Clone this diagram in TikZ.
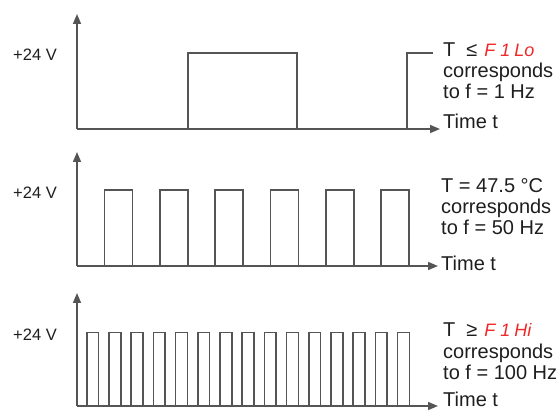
\documentclass[tikz,border=0pt]{standalone}
\usepackage{fontspec}
\setmainfont{Liberation Sans}
\usetikzlibrary{arrows.meta}
\definecolor{ln}{HTML}{555555}
\definecolor{tx}{HTML}{1E1E1E}
\definecolor{sev}{HTML}{F02828}
\begin{document}
\begin{tikzpicture}[x=1pt,y=-1pt,
  sig/.style={draw=ln,line width=1.6pt,line join=miter},
  axisline/.style={draw=ln,line width=1.6pt,-{Triangle[length=10pt,width=8pt]}},
  volt/.style={anchor=base west,inner sep=0pt,text=tx,font=\fontsize{16.5}{18}\selectfont},
  rtxt/.style={anchor=base west,inner sep=0pt,text=tx,font=\fontsize{20}{21}\selectfont}]
\useasboundingbox (0,0) rectangle (557,411);

% ---------- top panel ----------
\coordinate (o1) at (77,129);
\coordinate (y1) at (77,14);
\coordinate (x1) at (440,129);
\coordinate (e1) at (433,53);
\draw[axisline] (o1) -- (y1);
\draw[axisline] (o1) -- (x1);
\draw[sig] (o1) -- (188,129) -- (188,53) -- (297,53) -- (297,129) -- (407,129) -- (407,53) -- (e1);
\node[volt] (v1) at (13,60.7) {+24 V};
\node[rtxt] (a1) at (443,56.7) {T\hspace{11pt}≤\hspace{7pt}{\color{sev}\itshape\fontsize{18}{20}\selectfont F\hspace{5pt}1\hspace{4pt}Lo}};
\node[rtxt] (b1) at (443,78) {corresponds};
\node[rtxt] (c1) at (443,99) {to f = 1 Hz};
\node[rtxt] (t1) at (443,128.5) {Time t};

% ---------- middle panel ----------
\coordinate (o2) at (77,266);
\coordinate (y2) at (77,152);
\coordinate (x2) at (438,266);
\draw[axisline] (o2) -- (y2);
\draw[axisline] (o2) -- (x2);
\foreach \k in {0,...,5}{
  \pgfmathsetmacro{\xa}{104.5+55.3*\k}
  \pgfmathsetmacro{\xb}{\xa+28}
  \draw[sig] (\xa,266) -- (\xa,190) -- (\xb,190) -- (\xb,266);
}
\node[volt] (v2) at (13,198.5) {+24 V};
\node[rtxt] (a2) at (441,193) {T = 47.5 °C};
\node[rtxt] (b2) at (441,214) {corresponds};
\node[rtxt] (c2) at (441,235) {to f = 50 Hz};
\node[rtxt] (t2) at (441,270.5) {Time t};

% ---------- bottom panel ----------
\coordinate (o3) at (77,406);
\coordinate (y3) at (77,293);
\coordinate (x3) at (438,406);
\draw[axisline] (o3) -- (y3);
\draw[axisline] (o3) -- (x3);
\foreach \k in {0,...,14}{
  \pgfmathsetmacro{\xa}{86.7+22.2*\k}
  \pgfmathsetmacro{\xb}{\xa+11.8}
  \draw[sig] (\xa,406) -- (\xa,332.5) -- (\xb,332.5) -- (\xb,406);
}
\node[volt] (v3) at (13,340.5) {+24 V};
\node[rtxt] (a3) at (443,337) {T\hspace{11pt}≥\hspace{7pt}{\color{sev}\itshape\fontsize{18}{20}\selectfont F\hspace{5pt}1\hspace{4pt}Hi}};
\node[rtxt] (b3) at (443,359) {corresponds};
\node[rtxt] (c3) at (443,380) {to f = 100 Hz};
\node[rtxt] (t3) at (443,406.5) {Time t};
\end{tikzpicture}
\end{document}
